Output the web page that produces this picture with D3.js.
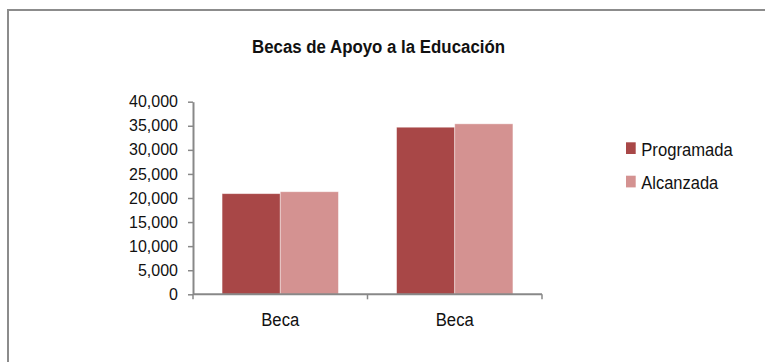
<!DOCTYPE html>
<html><head><meta charset="utf-8">
<script src="https://cdn.jsdelivr.net/npm/d3@7"></script>
<style>
body{margin:0;background:#fff;}
svg{display:block;font-family:"Liberation Sans",Arial,sans-serif;}
</style></head>
<body>
<svg id="c" width="765" height="362"></svg>
<script>
const title = "Becas de Apoyo a la Educación";
const categories = ["Beca 1", "Beca 2"];
const categoryLabels = ["Beca", "Beca"];
const seriesNames = ["Programada", "Alcanzada"];
const programada = [20900, 34700];
const alcanzada = [21300, 35400];
const yTicks = [0, 5000, 10000, 15000, 20000, 25000, 30000, 35000, 40000];
const colors = ["#A84747", "#D49291"];

const svg = d3.select("#c");
// outer border
svg.append("rect").attr("x", 8).attr("y", 10).attr("width", 780).attr("height", 380)
  .attr("fill", "#fff").attr("stroke", "#8c8c8c").attr("stroke-width", 2);

const m = {left: 193, right: 542, top: 101.7, bottom: 294.3};
const x0 = d3.scaleBand().domain(categories).range([m.left, m.right]).paddingInner(1/3).paddingOuter(1/6);
const x1 = d3.scaleBand().domain(seriesNames).range([0, x0.bandwidth()]);
const y = d3.scaleLinear().domain([0, 40000]).range([m.bottom, m.top]);

const data = categories.map((c, i) => ({cat: c, vals: [programada[i], alcanzada[i]]}));

const g = svg.append("g");
data.forEach(d => {
  d.vals.forEach((v, j) => {
    g.append("rect")
      .attr("x", x0(d.cat) + x1(seriesNames[j]))
      .attr("y", y(v))
      .attr("width", x1.bandwidth())
      .attr("height", y(0) - y(v))
      .attr("fill", colors[j])
      .attr("stroke", "rgba(255,255,255,0.5)")
      .attr("stroke-width", 0.8);
  });
});

// y axis
const fmt = d3.format(",");
const ya = svg.append("g").attr("transform", `translate(${m.left},0)`)
  .call(d3.axisLeft(y).tickValues(yTicks).tickFormat(fmt).tickSize(5).tickSizeOuter(0).tickPadding(10));
ya.select(".domain").attr("stroke", "#888").attr("stroke-width", 2);
ya.selectAll(".tick line").attr("stroke", "#888").attr("stroke-width", 1.5);
ya.selectAll(".tick text").attr("font-size", 16).attr("fill", "#111")
  .attr("font-family", "Liberation Sans, Arial, sans-serif");

// x axis
const xa = svg.append("g").attr("transform", `translate(0,${m.bottom})`);
xa.append("line").attr("x1", m.left).attr("x2", m.right).attr("y1", 0).attr("y2", 0)
  .attr("stroke", "#888").attr("stroke-width", 2);
const tickPos = [m.left].concat(categories.map(c => x0(c) + x0.bandwidth() + x0.step()*x0.paddingInner()/2));
tickPos.forEach(t => {
  xa.append("line").attr("x1", t).attr("x2", t).attr("y1", 0).attr("y2", 5)
    .attr("stroke", "#888").attr("stroke-width", 1.5);
});
categories.forEach((c, i) => {
  xa.append("text").attr("x", x0(c) + x0.bandwidth()/2 - 19).attr("y", 31.4)
    .attr("font-size", 18).attr("fill", "#111")
    .attr("textLength", 38).attr("lengthAdjust", "spacingAndGlyphs")
    .text(categoryLabels[i]);
});

// title
svg.append("text").attr("x", 252).attr("y", 53.3)
  .attr("font-size", 18).attr("font-weight", "bold").attr("fill", "#111")
  .attr("textLength", 253).attr("lengthAdjust", "spacingAndGlyphs")
  .text(title);

// legend
const legendLens = [91.4, 77];
seriesNames.forEach((s, i) => {
  const ly = 142.3 + i * 33.4;
  svg.append("rect").attr("x", 626).attr("y", ly).attr("width", 9.7).attr("height", 11.7)
    .attr("fill", colors[i]);
  svg.append("text").attr("x", 641.3).attr("y", ly + 13.7)
    .attr("font-size", 17.5).attr("fill", "#111")
    .attr("textLength", legendLens[i]).attr("lengthAdjust", "spacingAndGlyphs")
    .text(s);
});
</script>
</body></html>
